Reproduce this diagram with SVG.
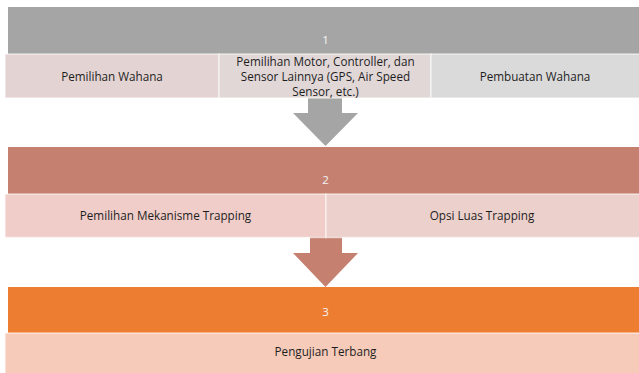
<svg xmlns="http://www.w3.org/2000/svg" width="639" height="373" viewBox="0 0 639 373">
  <style>
    .lbl { font-family: "Open Sans", "Liberation Sans", sans-serif; font-size: 11.7px; fill: #1e1e1e; text-anchor: middle; }
    .num { font-family: "Open Sans", "Liberation Sans", sans-serif; font-size: 11.5px; fill: #f4f4f4; text-anchor: middle; }
    .sub { stroke: #ffffff; stroke-opacity: 0.55; stroke-width: 1.5; }
  </style>
  <rect x="0" y="0" width="639" height="373" fill="#ffffff"/>

  <g id="connectors">
    <polygon points="308,98 342,98 342,113 358,113 325.5,146 293,113 308,113" fill="#a5a5a5"/>
    <polygon points="310,237 342,237 342,253 358,253 325.5,287 293,253 310,253" fill="#c5806f"/>
  </g>

  <g id="stage1">
    <rect x="8" y="7" width="631" height="47" fill="#a5a5a5"/>
    <text class="num" x="325.5" y="44">1</text>
  </g>
  <g id="pemilihan-wahana">
    <rect class="sub" x="5" y="54" width="214" height="44" fill="#e3d4d3"/>
    <text class="lbl" x="112" y="80.5">Pemilihan Wahana</text>
  </g>
  <g id="pemilihan-motor">
    <rect class="sub" x="219" y="54" width="212" height="44" fill="#e1d7d7"/>
    <text class="lbl" x="325.5" y="66">Pemilihan Motor, Controller, dan</text>
    <text class="lbl" x="325.5" y="81">Sensor Lainnya (GPS, Air Speed</text>
    <text class="lbl" x="325.5" y="95.5">Sensor, etc.)</text>
  </g>
  <g id="pembuatan-wahana">
    <rect class="sub" x="431" y="54" width="210" height="44" fill="#dadada"/>
    <text class="lbl" x="535" y="80.5">Pembuatan Wahana</text>
  </g>

  <g id="stage2">
    <rect x="8" y="147" width="631" height="47" fill="#c5806f"/>
    <text class="num" x="325.5" y="183.5">2</text>
  </g>
  <g id="pemilihan-mekanisme">
    <rect class="sub" x="5" y="194" width="321" height="43.5" fill="#f0cdc8"/>
    <text class="lbl" x="165.5" y="220">Pemilihan Mekanisme Trapping</text>
  </g>
  <g id="opsi-luas">
    <rect class="sub" x="326" y="194" width="315" height="43.5" fill="#ecd0cb"/>
    <text class="lbl" x="482" y="220">Opsi Luas Trapping</text>
  </g>

  <g id="stage3">
    <rect x="8" y="287" width="631" height="46" fill="#ed7d31"/>
    <text class="num" x="325.5" y="316">3</text>
  </g>
  <g id="pengujian-terbang">
    <rect class="sub" x="5" y="333" width="636" height="44" fill="#f6cbb9"/>
    <text class="lbl" x="325.5" y="356">Pengujian Terbang</text>
  </g>
</svg>
